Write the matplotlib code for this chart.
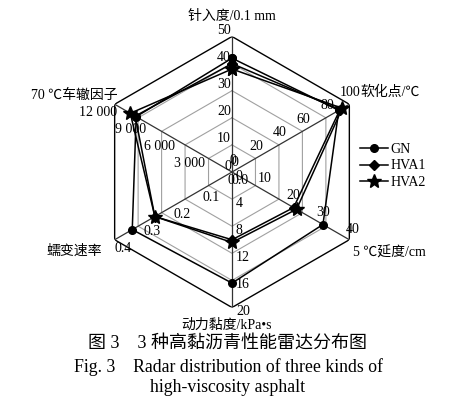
import numpy as np
import matplotlib.pyplot as plt

plt.rcParams['font.family'] = ['Liberation Serif', 'Noto Sans CJK SC']
plt.rcParams['font.size'] = 10

# axis names, clockwise from top
axis_names = ['针入度/0.1 mm', '软化点/℃', '5 ℃延度/cm', '动力黏度/kPa•s', '蠕变速率', '70 ℃车辙因子']
axis_max = [50, 100, 40, 20, 0.4, 12000]
tick_labels = [
    ['0', '10', '20', '30', '40', '50'],
    ['0', '20', '40', '60', '80', '100'],
    ['0', '10', '20', '30', '40'],
    ['0', '4', '8', '12', '16', '20'],
    ['0.0', '0.1', '0.2', '0.3', '0.4'],
    ['0', '3 000', '6 000', '9 000', '12 000'],
]

series = ['GN', 'HVA1', 'HVA2']
gn = [42, 91, 31, 16.4, 0.34, 9800]
hva1 = [40, 92, 21, 10.0, 0.263, 9900]
hva2 = [38, 94, 22, 10.4, 0.263, 10400]
markers = ['o', 'D', '*']
msizes = [5.5, 5, 10]

n = len(axis_names)
theta = np.arange(n) * 2 * np.pi / n

fig = plt.figure(figsize=(4.57, 4.05), dpi=100)
cx, cy, R = 232 / 457, 1 - 172 / 405, 135.5
ax = fig.add_axes([cx - R / 457, cy - R / 405, 2 * R / 457, 2 * R / 405], projection='polar')
ax.set_theta_zero_location('N')
ax.set_theta_direction(-1)
ax.set_ylim(0, 1)
ax.grid(False)
ax.spines['polar'].set_visible(False)
ax.set_xticks([])
ax.set_yticks([])
ax.patch.set_alpha(0)

# hexagon rings
tc = np.append(theta, theta[0])
for lvl in [0.2, 0.4, 0.6, 0.8]:
    ax.plot(tc, [lvl] * (n + 1), color='#a0a0a0', lw=0.8, zorder=1)
ax.plot(tc, [1.0] * (n + 1), color='black', lw=1.0, zorder=2)
for t in theta:
    ax.plot([t, t], [0, 1], color='#333333', lw=0.9, zorder=2)

# data
for name, vals, m, ms in zip(series, [gn, hva1, hva2], markers, msizes):
    r = [v / mx for v, mx in zip(vals, axis_max)]
    r.append(r[0])
    ax.plot(tc, r, color='black', lw=1.1, marker=m, ms=ms, label=name, zorder=3, clip_on=False)

# tick labels along each spoke: (dx, dy) in pixels, ha
tick_fmt = [(-1, 6, 'right'), (1, 12, 'center'), (3, 10, 'center'),
            (4, -4, 'left'), (0, -9, 'left'), (2, -8, 'right')]
for i, labs in enumerate(tick_labels):
    k = len(labs) - 1
    dx, dy, ha = tick_fmt[i]
    for j, lab in enumerate(labs):
        ax.annotate(lab, (theta[i], j / k), xytext=(dx, dy), textcoords='offset pixels',
                    ha=ha, va='center', fontsize=10, zorder=4)

# axis names
name_fmt = [(0, 20, 'center'), (11, 12, 'left'), (4, -13, 'left'),
            (-5, -18, 'center'), (-13, -11, 'right'), (3, 9, 'right')]
for i, nm in enumerate(axis_names):
    dx, dy, ha = name_fmt[i]
    ax.annotate(nm, (theta[i], 1), xytext=(dx, dy), textcoords='offset pixels',
                ha=ha, va='center', fontsize=10, annotation_clip=False)

fig.legend(loc='upper left', bbox_to_anchor=(360 / 457, 1 - 143 / 405), frameon=False,
           handlelength=2.0, handletextpad=0.2, labelspacing=0.25, borderpad=0,
           borderaxespad=0, fontsize=10)

fig.text(228 / 457, 1 - 343 / 405, '图 3\u30003 种高黏沥青性能雷达分布图', ha='center', va='center', fontsize=13)
fig.text(229 / 457, 1 - 367 / 405, 'Fig. 3\u3000Radar distribution of three kinds of', ha='center', va='center', fontsize=12.8)
fig.text(228 / 457, 1 - 388 / 405, 'high-viscosity asphalt', ha='center', va='center', fontsize=12.8)

fig.savefig('out.png', dpi=100)
